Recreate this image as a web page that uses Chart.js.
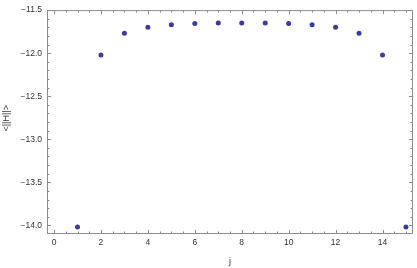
<!DOCTYPE html>
<html>
<head>
<meta charset="utf-8">
<script src="https://cdn.jsdelivr.net/npm/chart.js@4/dist/chart.umd.min.js"></script>
<style>
  html, body { margin: 0; padding: 0; background: #fff; }
  #wrap { width: 417px; height: 268px; }
</style>
</head>
<body>
<div id="wrap"><canvas id="chartCanvas" width="417" height="268"></canvas></div>
<script>
// ======== DATA ========
const jValues = [1, 2, 3, 4, 5, 6, 7, 8, 9, 10, 11, 12, 13, 14, 15];
const hValues = [-14.02, -12.02, -11.77, -11.70, -11.67, -11.655, -11.65, -11.65,
                 -11.65, -11.655, -11.67, -11.70, -11.77, -12.02, -14.02];
const xTicks = [0, 2, 4, 6, 8, 10, 12, 14];
const yTicks = [-14.0, -13.5, -13.0, -12.5, -12.0, -11.5];

const frameColor = "#8c8c8c";
const labelColor = "#333";
const pointColor = "#3b3b99";

// frame ticks pointing inward on all four sides (Mathematica style)
const frameTicks = {
  id: "frameTicks",
  afterDraw(chart) {
    const { ctx, chartArea: a, scales } = chart;
    const xs = scales.x, ys = scales.y;
    ctx.save();
    ctx.strokeStyle = frameColor;
    ctx.lineWidth = 1;
    ctx.strokeRect(a.left + 0.5, a.top + 0.5, a.right - a.left - 1, a.bottom - a.top - 1);

    ctx.beginPath();
    // x ticks every 0.5, major on labelled ones
    for (let v = 0; v <= xs.max + 1e-9; v += 0.5) {
      const px = Math.round(xs.getPixelForValue(v)) + 0.5;
      const len = xTicks.includes(v) ? 4 : 2.5;
      ctx.moveTo(px, a.bottom); ctx.lineTo(px, a.bottom - len);
      ctx.moveTo(px, a.top); ctx.lineTo(px, a.top + len);
    }
    // y ticks every 0.1
    for (let k = -140; k <= -115; k++) {
      const v = k / 10;
      const py = Math.round(ys.getPixelForValue(v)) + 0.5;
      const len = (k % 5 === 0) ? 4 : 2.5;
      ctx.moveTo(a.left, py); ctx.lineTo(a.left + len, py);
      ctx.moveTo(a.right, py); ctx.lineTo(a.right - len, py);
    }
    ctx.stroke();
    ctx.restore();
  }
};

const ctx = document.getElementById("chartCanvas").getContext("2d");
new Chart(ctx, {
  type: "scatter",
  data: {
    datasets: [{
      data: jValues.map((j, i) => ({ x: j, y: hValues[i] })),
      backgroundColor: pointColor,
      borderColor: pointColor,
      pointRadius: 2.5,
      borderWidth: 0,
      clip: false
    }]
  },
  options: {
    responsive: false,
    animation: false,
    layout: { padding: { top: 5, right: 1, left: 0, bottom: 0 } },
    plugins: { legend: { display: false }, tooltip: { enabled: false } },
    scales: {
      x: {
        type: "linear",
        min: -0.3,
        max: 15.3,
        afterBuildTicks: (s) => { s.ticks = xTicks.map(v => ({ value: v })); },
        afterFit: (s) => { s.height = 34; },
        grid: { display: false, drawTicks: false },
        border: { display: false },
        ticks: {
          color: labelColor,
          padding: 4,
          maxRotation: 0,
          font: { family: "Liberation Sans", size: 8.5 },
          callback: (v) => String(v)
        },
        title: {
          display: true,
          text: "j",
          color: labelColor,
          padding: { top: 0, bottom: 1 },
          font: { family: "Liberation Sans", size: 9 }
        }
      },
      y: {
        type: "linear",
        min: -14.1,
        max: -11.5,
        afterBuildTicks: (s) => { s.ticks = yTicks.map(v => ({ value: v })); },
        afterFit: (s) => { s.width = 47; },
        grid: { display: false, drawTicks: false },
        border: { display: false },
        ticks: {
          color: labelColor,
          padding: 5,
          font: { family: "Liberation Sans", size: 8.5 },
          callback: (v) => "\u2212" + Math.abs(v).toFixed(1)
        },
        title: {
          display: true,
          // leading spaces nudge the label a little upward, as in the original
          text: "\u00a0\u00a0\u00a0<||H||>",
          color: labelColor,
          padding: { top: 1, bottom: 0 },
          font: { family: "Liberation Sans", size: 9 }
        }
      }
    }
  },
  plugins: [frameTicks]
});
</script>
</body>
</html>
